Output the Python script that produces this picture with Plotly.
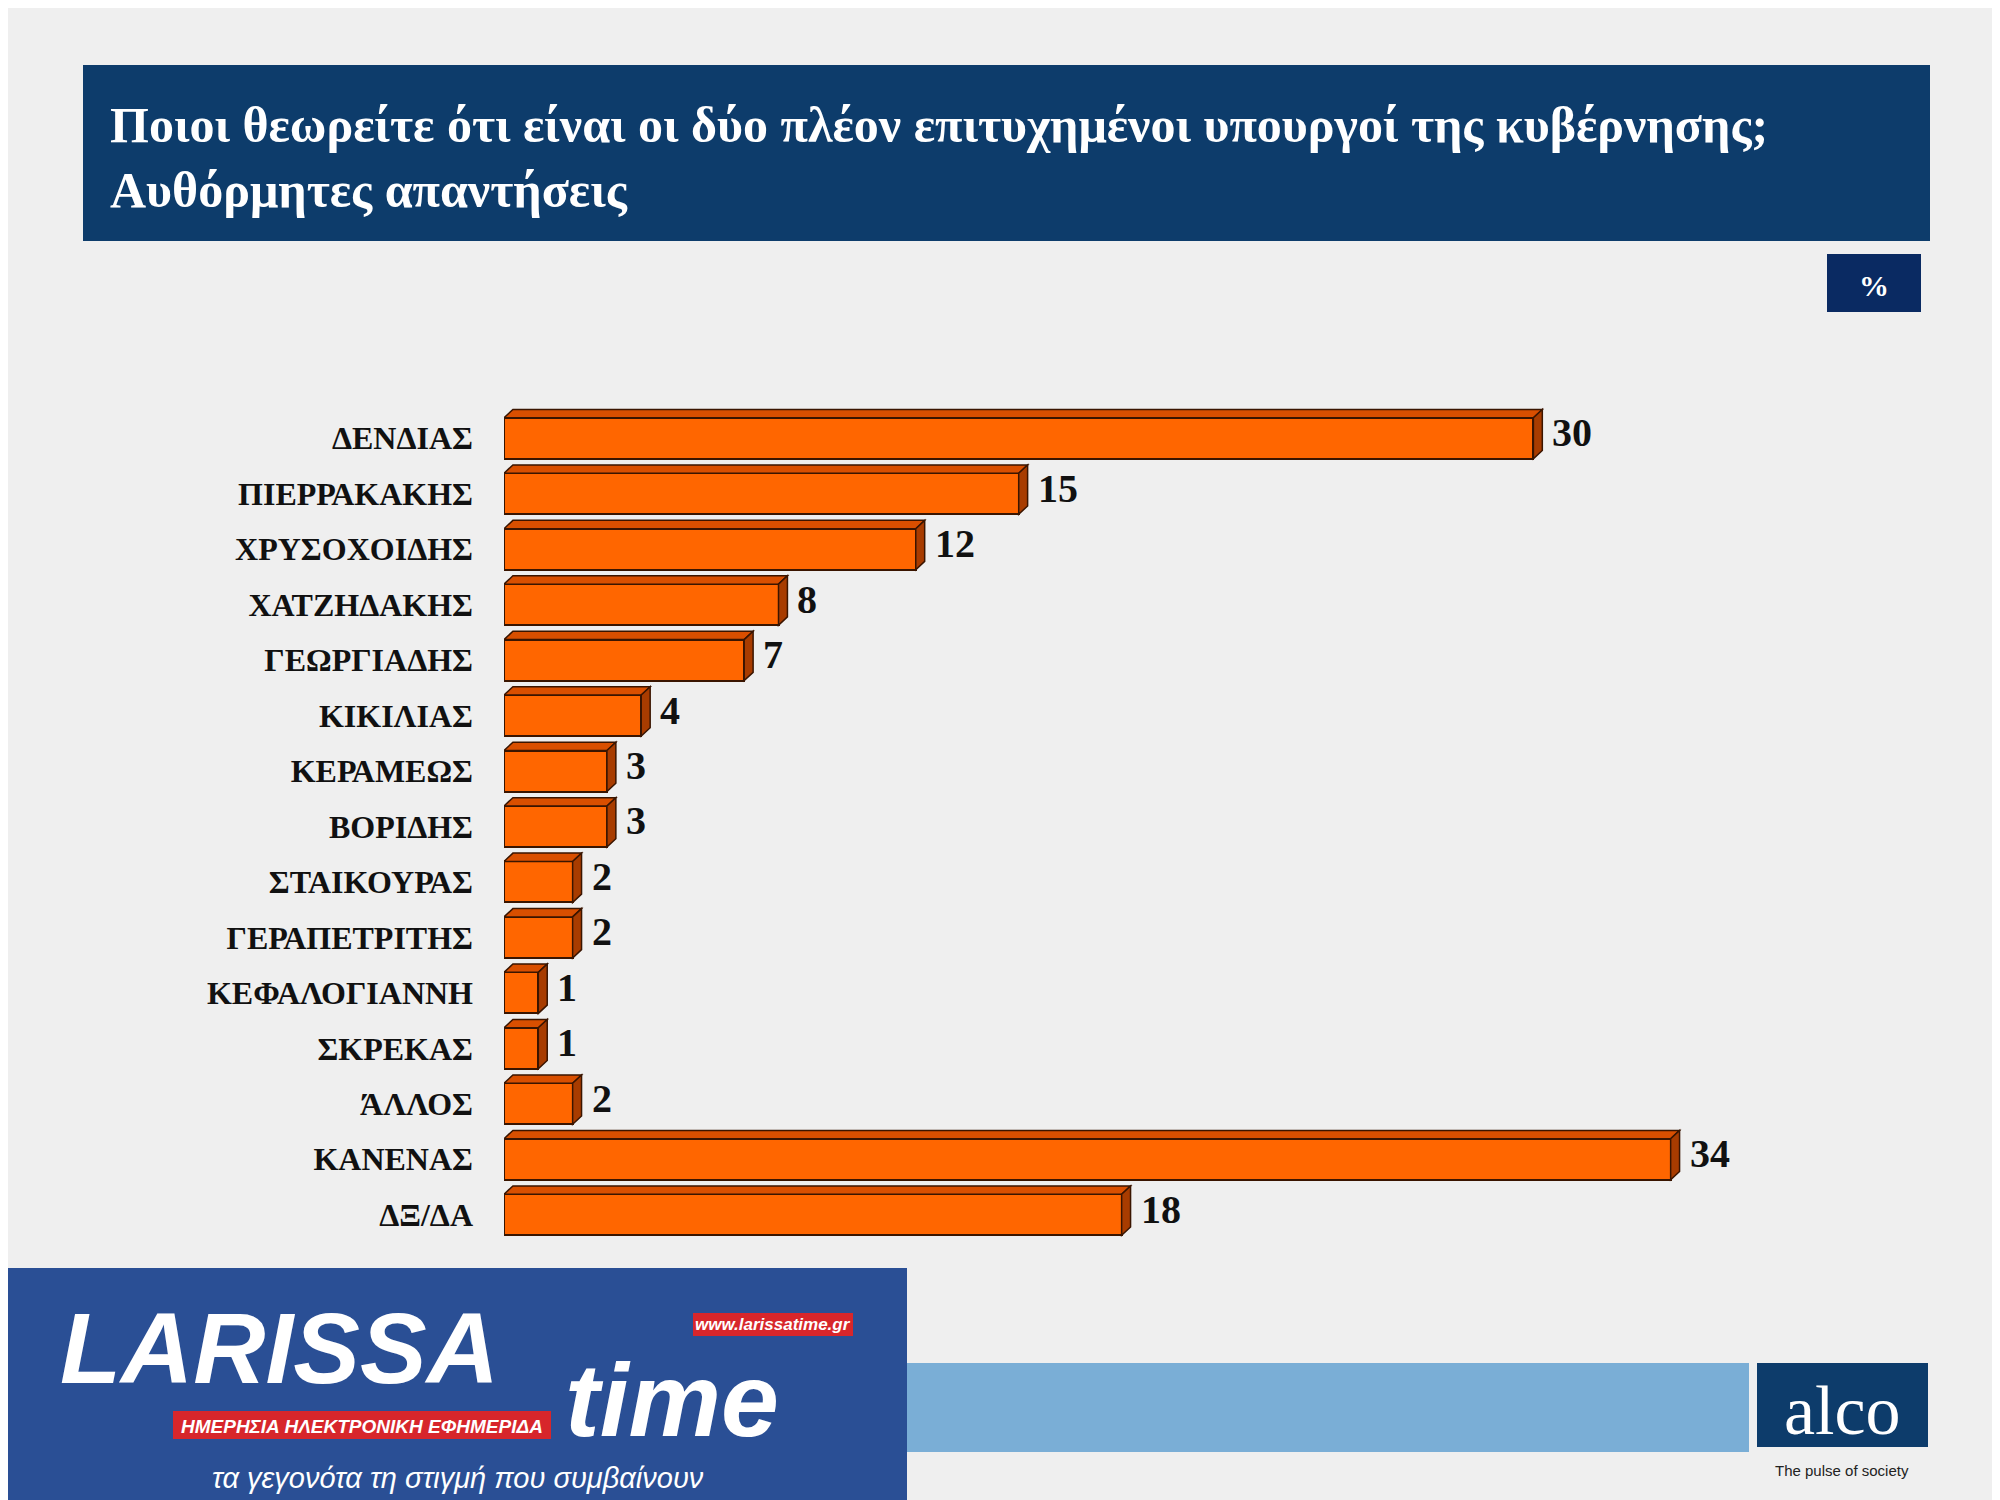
import plotly.graph_objects as go

names = ["ΔΕΝΔΙΑΣ", "ΠΙΕΡΡΑΚΑΚΗΣ", "ΧΡΥΣΟΧΟΙΔΗΣ", "ΧΑΤΖΗΔΑΚΗΣ", "ΓΕΩΡΓΙΑΔΗΣ",
         "ΚΙΚΙΛΙΑΣ", "ΚΕΡΑΜΕΩΣ", "ΒΟΡΙΔΗΣ", "ΣΤΑΙΚΟΥΡΑΣ", "ΓΕΡΑΠΕΤΡΙΤΗΣ",
         "ΚΕΦΑΛΟΓΙΑΝΝΗ", "ΣΚΡΕΚΑΣ", "ΆΛΛΟΣ", "ΚΑΝΕΝΑΣ", "ΔΞ/ΔΑ"]
values = [30, 15, 12, 8, 7, 4, 3, 3, 2, 2, 1, 1, 2, 34, 18]

SERIF = "Liberation Serif"
idx = list(range(len(names)))
h = 0.37
dx, dy = 0.26, 0.15

fig = go.Figure()
fig.add_trace(go.Bar(
    x=values, y=idx, orientation="h", width=2 * h,
    marker=dict(color="#ff6600", line=dict(color="#3a1500", width=2)),
    hoverinfo="skip",
))

# 3D top and side faces, derived from the values
for i, v in zip(idx, values):
    top = f"M 0,{i-h} L {v},{i-h} L {v+dx},{i-h-dy} L {dx},{i-h-dy} Z"
    side = f"M {v},{i-h} L {v+dx},{i-h-dy} L {v+dx},{i+h-dy} L {v},{i+h} Z"
    fig.add_shape(type="path", path=top, fillcolor="#d94f00",
                  line=dict(color="#3a1500", width=1.5), xref="x", yref="y")
    fig.add_shape(type="path", path=side, fillcolor="#a83c00",
                  line=dict(color="#3a1500", width=1.5), xref="x", yref="y")
    fig.add_annotation(text=f"<b>{v}</b>", x=v + dx, y=i - 0.1, xref="x", yref="y",
                       xanchor="left", yanchor="middle", showarrow=False, xshift=8,
                       font=dict(family=SERIF, size=40, color="#111"))

def px(xp, yp):
    return (xp - 496) / 1424, (1500 - 260 - yp) / 843

def box(x0, y0, x1, y1, color):
    a0, b1 = px(x0, y0)
    a1, b0 = px(x1, y1)
    fig.add_shape(type="rect", xref="paper", yref="paper", layer="below",
                  x0=a0, x1=a1, y0=b0, y1=b1, fillcolor=color, line_width=0)

box(75, 57, 1922, 233, "#0d3c6b")
box(1819, 246, 1913, 304, "#0a2a62")
box(0, 1260, 899, 1500, "#2a4f95")
box(899, 1355, 1741, 1444, "#7aaed6")
box(1749, 1355, 1920, 1439, "#0d3c6b")
box(165, 1403, 543, 1431, "#d7262b")
box(685, 1305, 845, 1328, "#d7262b")

def ann(text, x, y, size, color="white", xanchor="left", family=SERIF):
    fig.add_annotation(text=text, x=x, y=y, xref="paper", yref="paper",
                       xanchor=xanchor, yanchor="middle", showarrow=False,
                       font=dict(family=family, size=size, color=color), align="left")

ann("<b>Ποιοι θεωρείτε ότι είναι οι δύο πλέον επιτυχημένοι υπουργοί της κυβέρνησης;<br>Αυθόρμητες απαντήσεις</b>",
    *px(100, 150), 50)
ann("<b>%</b>", *px(1866, 277), 30, xanchor="center")
ann("<b><i>LARISSA</i></b>", *px(50, 1340), 100, family="Liberation Sans")
ann("<b><i>time</i></b>", *px(555, 1392), 104, family="Liberation Sans")
ann("<b><i>www.larissatime.gr</i></b>", *px(765, 1316), 17, xanchor="center",
    family="Liberation Sans")
ann("<b><i>ΗΜΕΡΗΣΙΑ ΗΛΕΚΤΡΟΝΙΚΗ ΕΦΗΜΕΡΙΔΑ</i></b>", *px(354, 1418), 19,
    xanchor="center", family="Liberation Sans")
ann("<i>τα γεγονότα τη στιγμή που συμβαίνουν</i>", *px(450, 1470), 29,
    xanchor="center", family="Liberation Sans")
ann("alco", *px(1834, 1402), 70, xanchor="center")
ann("The pulse of society", *px(1834, 1462), 15, color="#222", xanchor="center",
    family="Liberation Sans")

fig.update_layout(
    width=2000, height=1500,
    margin=dict(l=496, r=80, t=397, b=260),
    paper_bgcolor="#efefef", plot_bgcolor="rgba(0,0,0,0)",
    showlegend=False, bargap=0,
    xaxis=dict(range=[0, 41.5], visible=False, fixedrange=True),
    yaxis=dict(range=[14.6, -0.6], tickvals=idx,
               ticktext=[f"<b>{n}</b>" for n in names],
               tickfont=dict(family=SERIF, size=32, color="#111"),
               ticks="", showgrid=False, zeroline=False, showline=False,
               ticklabelstandoff=30),
)

fig.write_html("out.html")
